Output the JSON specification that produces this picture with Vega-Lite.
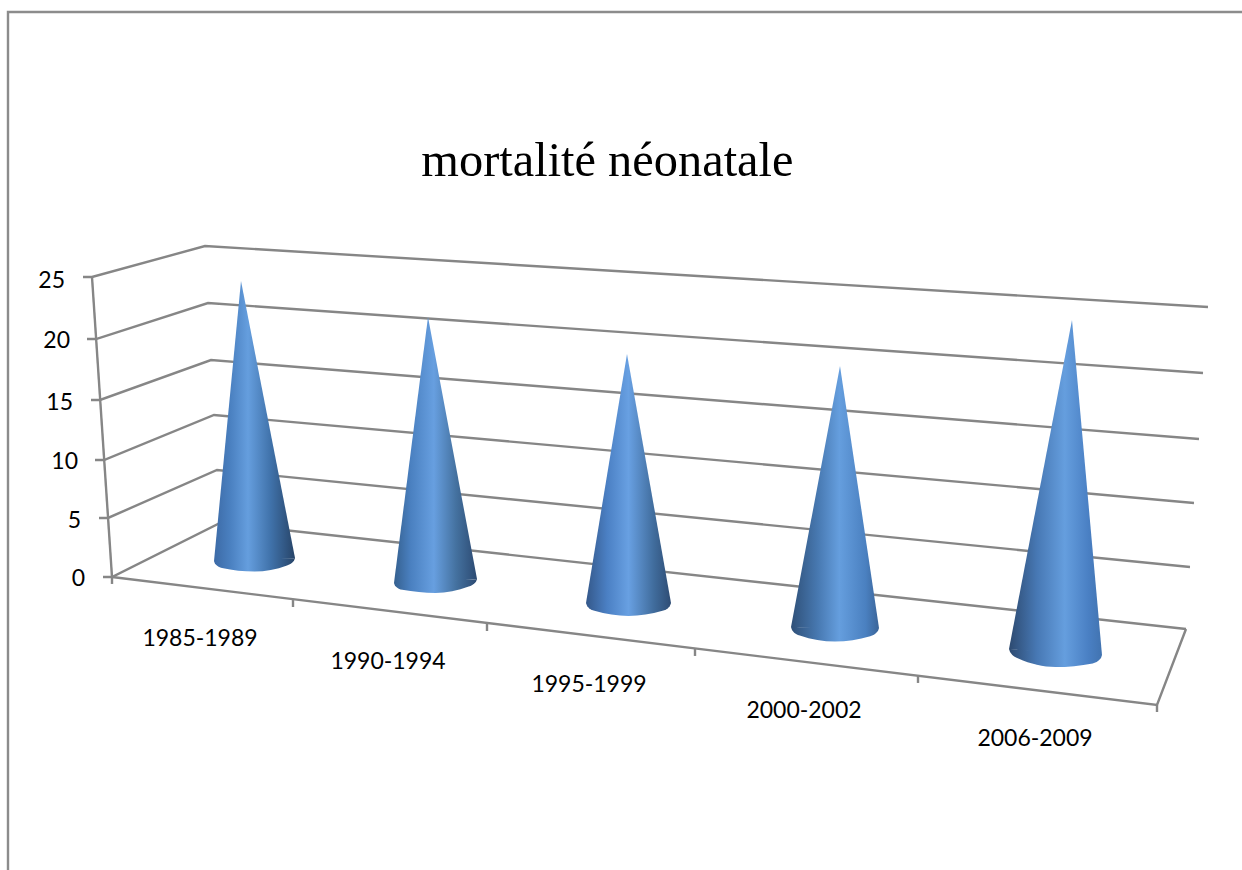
{"$schema":"https://vega.github.io/schema/vega-lite/v6.json","width":1242,"height":870,"autosize":"none","padding":0,"background":"white","config":{"view":{"stroke":null}},
"datasets":{
"lines":[
{"id":"g25","seq":1,"u":0.415,"v":25},{"id":"g25","seq":2,"u":0.46,"v":25},{"id":"g25","seq":3,"u":1.025,"v":27.58},{"id":"g25","seq":4,"u":6.04,"v":22.5},
{"id":"g20","seq":1,"u":0.435,"v":19.83},{"id":"g20","seq":2,"u":0.48,"v":19.83},{"id":"g20","seq":3,"u":1.04,"v":22.83},{"id":"g20","seq":4,"u":6.015,"v":17},
{"id":"g15","seq":1,"u":0.455,"v":14.75},{"id":"g15","seq":2,"u":0.5,"v":14.75},{"id":"g15","seq":3,"u":1.055,"v":18.08},{"id":"g15","seq":4,"u":5.995,"v":11.5},
{"id":"g10","seq":1,"u":0.475,"v":9.75},{"id":"g10","seq":2,"u":0.52,"v":9.75},{"id":"g10","seq":3,"u":1.07,"v":13.5},{"id":"g10","seq":4,"u":5.97,"v":6.17},
{"id":"g5","seq":1,"u":0.495,"v":4.92},{"id":"g5","seq":2,"u":0.54,"v":4.92},{"id":"g5","seq":3,"u":1.085,"v":8.92},{"id":"g5","seq":4,"u":5.95,"v":0.83},
{"id":"g0","seq":1,"u":0.515,"v":0},{"id":"g0","seq":2,"u":0.56,"v":0},{"id":"g0","seq":3,"u":1.1,"v":4.5},{"id":"g0","seq":4,"u":5.93,"v":-4.33},
{"id":"axis","seq":1,"u":0.46,"v":25},{"id":"axis","seq":2,"u":0.56,"v":0},
{"id":"floor","seq":1,"u":0.56,"v":0},{"id":"floor","seq":2,"u":5.785,"v":-10.67},{"id":"floor","seq":3,"u":5.93,"v":-4.33},
{"id":"t0","seq":1,"u":0.56,"v":0},{"id":"t0","seq":2,"u":0.56,"v":-0.58},
{"id":"t1","seq":1,"u":1.465,"v":-1.92},{"id":"t1","seq":2,"u":1.465,"v":-2.5},
{"id":"t2","seq":1,"u":2.435,"v":-3.83},{"id":"t2","seq":2,"u":2.435,"v":-4.5},
{"id":"t3","seq":1,"u":3.475,"v":-6},{"id":"t3","seq":2,"u":3.475,"v":-6.58},
{"id":"t4","seq":1,"u":4.59,"v":-8.25},{"id":"t4","seq":2,"u":4.59,"v":-8.83},
{"id":"t5","seq":1,"u":5.785,"v":-10.67},{"id":"t5","seq":2,"u":5.785,"v":-11.25}
],
"frame":[{"seq":1,"u":0.04,"v":-24.42},{"seq":2,"u":0.04,"v":47.08},{"seq":3,"u":6.21,"v":47.08}],
"cones":[
{"cone":"1985-1989","part":"tip","u":1.07,"v":1.33,"v2":1.33},{"cone":"1985-1989","part":"tip","u":1.205,"v":24.67,"v2":1.25},{"cone":"1985-1989","part":"tip","u":1.475,"v":1.58,"v2":1.58},
{"cone":"1985-1989","part":"base","u":1.07,"v":1.33,"v2":1.33},{"cone":"1985-1989","part":"base","u":1.076,"v":1.34,"v2":1.08},{"cone":"1985-1989","part":"base","u":1.11,"v":1.36,"v2":0.76},{"cone":"1985-1989","part":"base","u":1.2725,"v":1.46,"v2":0.46},{"cone":"1985-1989","part":"base","u":1.435,"v":1.56,"v2":0.96},{"cone":"1985-1989","part":"base","u":1.469,"v":1.57,"v2":1.33},{"cone":"1985-1989","part":"base","u":1.475,"v":1.58,"v2":1.58},
{"cone":"1990-1994","part":"tip","u":1.97,"v":-0.5,"v2":-0.5},{"cone":"1990-1994","part":"tip","u":2.14,"v":21.67,"v2":-0.53},{"cone":"1990-1994","part":"tip","u":2.385,"v":-0.17,"v2":-0.17},
{"cone":"1990-1994","part":"base","u":1.97,"v":-0.5,"v2":-0.5},{"cone":"1990-1994","part":"base","u":1.976,"v":-0.5,"v2":-0.75},{"cone":"1990-1994","part":"base","u":2.0115,"v":-0.47,"v2":-1.07},{"cone":"1990-1994","part":"base","u":2.1775,"v":-0.33,"v2":-1.33},{"cone":"1990-1994","part":"base","u":2.3435,"v":-0.2,"v2":-0.8},{"cone":"1990-1994","part":"base","u":2.379,"v":-0.18,"v2":-0.42},{"cone":"1990-1994","part":"base","u":2.385,"v":-0.17,"v2":-0.17},
{"cone":"1995-1999","part":"tip","u":2.93,"v":-2.17,"v2":-2.17},{"cone":"1995-1999","part":"tip","u":3.135,"v":18.58,"v2":-2.33},{"cone":"1995-1999","part":"tip","u":3.355,"v":-2.17,"v2":-2.17},
{"cone":"1995-1999","part":"base","u":2.93,"v":-2.17,"v2":-2.17},{"cone":"1995-1999","part":"base","u":2.9365,"v":-2.17,"v2":-2.43},{"cone":"1995-1999","part":"base","u":2.9725,"v":-2.17,"v2":-2.82},{"cone":"1995-1999","part":"base","u":3.1425,"v":-2.17,"v2":-3.25},{"cone":"1995-1999","part":"base","u":3.3125,"v":-2.17,"v2":-2.82},{"cone":"1995-1999","part":"base","u":3.3485,"v":-2.17,"v2":-2.43},{"cone":"1995-1999","part":"base","u":3.355,"v":-2.17,"v2":-2.17},
{"cone":"2000-2002","part":"tip","u":3.955,"v":-4.17,"v2":-4.17},{"cone":"2000-2002","part":"tip","u":4.2,"v":17.58,"v2":-4.38},{"cone":"2000-2002","part":"tip","u":4.395,"v":-4.25,"v2":-4.25},
{"cone":"2000-2002","part":"base","u":3.955,"v":-4.17,"v2":-4.17},{"cone":"2000-2002","part":"base","u":3.9615,"v":-4.17,"v2":-4.45},{"cone":"2000-2002","part":"base","u":3.999,"v":-4.18,"v2":-4.88},{"cone":"2000-2002","part":"base","u":4.175,"v":-4.21,"v2":-5.38},{"cone":"2000-2002","part":"base","u":4.351,"v":-4.24,"v2":-4.94},{"cone":"2000-2002","part":"base","u":4.3885,"v":-4.25,"v2":-4.53},{"cone":"2000-2002","part":"base","u":4.395,"v":-4.25,"v2":-4.25},
{"cone":"2006-2009","part":"tip","u":5.045,"v":-6,"v2":-6},{"cone":"2006-2009","part":"tip","u":5.36,"v":21.42,"v2":-6.5},{"cone":"2006-2009","part":"tip","u":5.51,"v":-6.5,"v2":-6.5},
{"cone":"2006-2009","part":"base","u":5.045,"v":-6,"v2":-6},{"cone":"2006-2009","part":"base","u":5.052,"v":-6.01,"v2":-6.3},{"cone":"2006-2009","part":"base","u":5.0915,"v":-6.05,"v2":-6.8},{"cone":"2006-2009","part":"base","u":5.2775,"v":-6.25,"v2":-7.5},{"cone":"2006-2009","part":"base","u":5.4635,"v":-6.45,"v2":-7.2},{"cone":"2006-2009","part":"base","u":5.503,"v":-6.49,"v2":-6.8},{"cone":"2006-2009","part":"base","u":5.51,"v":-6.5,"v2":-6.5}
],
"ylabels":[{"t":"25","u":0.325,"v":24.65},{"t":"20","u":0.35,"v":19.65},{"t":"15","u":0.365,"v":14.48},{"t":"10","u":0.39,"v":9.57},{"t":"5","u":0.405,"v":4.65},{"t":"0","u":0.425,"v":-0.18}],
"xlabels":[{"t":"1985-1989","u":1.0,"v":-5.18},{"t":"1990-1994","u":1.94,"v":-7.1},{"t":"1995-1999","u":2.945,"v":-9.02},{"t":"2000-2002","u":4.02,"v":-11.18},{"t":"2006-2009","u":5.175,"v":-13.52}],
"title":[{"t":"mortalité néonatale","u":3.037,"v":33.42}]
},
"encoding":{
"x":{"field":"u","type":"quantitative","scale":{"domain":[0,6.21],"nice":false,"zero":false},"axis":null},
"y":{"field":"v","type":"quantitative","scale":{"domain":[-24.4167,48.0833],"nice":false,"zero":false},"axis":null}
},
"layer":[
{"data":{"name":"frame"},"mark":{"type":"line","color":"#8c8c8c","strokeWidth":2.4},"encoding":{"order":{"field":"seq","type":"ordinal"}}},
{"data":{"name":"lines"},"mark":{"type":"line","color":"#868686","strokeWidth":2.4},"encoding":{"detail":{"field":"id"},"order":{"field":"seq","type":"ordinal"}}},
{"data":{"name":"cones"},"transform":[{"filter":"datum.cone=='1985-1989' && datum.part=='tip'"}],"mark":{"type":"area","interpolate":"linear","color":{"gradient":"linear","x1":0,"y1":0,"x2":1,"y2":0,"stops":[{"offset":0,"color":"#3c6aa6"},{"offset":0.2,"color":"#4a80c0"},{"offset":0.42,"color":"#659ede"},{"offset":0.7,"color":"#4072aa"},{"offset":1,"color":"#274468"}]}},"encoding":{"y2":{"field":"v2"}}},
{"data":{"name":"cones"},"transform":[{"filter":"datum.cone=='1985-1989' && datum.part=='base'"}],"mark":{"type":"area","interpolate":"monotone","color":{"gradient":"linear","x1":0,"y1":0,"x2":1,"y2":0,"stops":[{"offset":0,"color":"#3c6aa6"},{"offset":0.2,"color":"#4a80c0"},{"offset":0.42,"color":"#659ede"},{"offset":0.7,"color":"#4072aa"},{"offset":1,"color":"#274468"}]}},"encoding":{"y2":{"field":"v2"}}},
{"data":{"name":"cones"},"transform":[{"filter":"datum.cone=='1990-1994' && datum.part=='tip'"}],"mark":{"type":"area","interpolate":"linear","color":{"gradient":"linear","x1":0,"y1":0,"x2":1,"y2":0,"stops":[{"offset":0,"color":"#35608f"},{"offset":0.2,"color":"#4a80c0"},{"offset":0.48,"color":"#679fe0"},{"offset":0.75,"color":"#44719f"},{"offset":1,"color":"#2c4a72"}]}},"encoding":{"y2":{"field":"v2"}}},
{"data":{"name":"cones"},"transform":[{"filter":"datum.cone=='1990-1994' && datum.part=='base'"}],"mark":{"type":"area","interpolate":"monotone","color":{"gradient":"linear","x1":0,"y1":0,"x2":1,"y2":0,"stops":[{"offset":0,"color":"#35608f"},{"offset":0.2,"color":"#4a80c0"},{"offset":0.48,"color":"#679fe0"},{"offset":0.75,"color":"#44719f"},{"offset":1,"color":"#2c4a72"}]}},"encoding":{"y2":{"field":"v2"}}},
{"data":{"name":"cones"},"transform":[{"filter":"datum.cone=='1995-1999' && datum.part=='tip'"}],"mark":{"type":"area","interpolate":"linear","color":{"gradient":"linear","x1":0,"y1":0,"x2":1,"y2":0,"stops":[{"offset":0,"color":"#34588a"},{"offset":0.25,"color":"#4b80c4"},{"offset":0.5,"color":"#68a0e2"},{"offset":0.8,"color":"#406c9c"},{"offset":1,"color":"#2e4c74"}]}},"encoding":{"y2":{"field":"v2"}}},
{"data":{"name":"cones"},"transform":[{"filter":"datum.cone=='1995-1999' && datum.part=='base'"}],"mark":{"type":"area","interpolate":"monotone","color":{"gradient":"linear","x1":0,"y1":0,"x2":1,"y2":0,"stops":[{"offset":0,"color":"#34588a"},{"offset":0.25,"color":"#4b80c4"},{"offset":0.5,"color":"#68a0e2"},{"offset":0.8,"color":"#406c9c"},{"offset":1,"color":"#2e4c74"}]}},"encoding":{"y2":{"field":"v2"}}},
{"data":{"name":"cones"},"transform":[{"filter":"datum.cone=='2000-2002' && datum.part=='tip'"}],"mark":{"type":"area","interpolate":"linear","color":{"gradient":"linear","x1":0,"y1":0,"x2":1,"y2":0,"stops":[{"offset":0,"color":"#2f5078"},{"offset":0.3,"color":"#4778b0"},{"offset":0.55,"color":"#659ede"},{"offset":0.85,"color":"#4a80c0"},{"offset":1,"color":"#3a6498"}]}},"encoding":{"y2":{"field":"v2"}}},
{"data":{"name":"cones"},"transform":[{"filter":"datum.cone=='2000-2002' && datum.part=='base'"}],"mark":{"type":"area","interpolate":"monotone","color":{"gradient":"linear","x1":0,"y1":0,"x2":1,"y2":0,"stops":[{"offset":0,"color":"#2f5078"},{"offset":0.3,"color":"#4778b0"},{"offset":0.55,"color":"#659ede"},{"offset":0.85,"color":"#4a80c0"},{"offset":1,"color":"#3a6498"}]}},"encoding":{"y2":{"field":"v2"}}},
{"data":{"name":"cones"},"transform":[{"filter":"datum.cone=='2006-2009' && datum.part=='tip'"}],"mark":{"type":"area","interpolate":"linear","color":{"gradient":"linear","x1":0,"y1":0,"x2":1,"y2":0,"stops":[{"offset":0,"color":"#2d4a70"},{"offset":0.3,"color":"#4778b4"},{"offset":0.6,"color":"#659ede"},{"offset":0.85,"color":"#4a80c4"},{"offset":1,"color":"#4173b0"}]}},"encoding":{"y2":{"field":"v2"}}},
{"data":{"name":"cones"},"transform":[{"filter":"datum.cone=='2006-2009' && datum.part=='base'"}],"mark":{"type":"area","interpolate":"monotone","color":{"gradient":"linear","x1":0,"y1":0,"x2":1,"y2":0,"stops":[{"offset":0,"color":"#2d4a70"},{"offset":0.3,"color":"#4778b4"},{"offset":0.6,"color":"#659ede"},{"offset":0.85,"color":"#4a80c4"},{"offset":1,"color":"#4173b0"}]}},"encoding":{"y2":{"field":"v2"}}},
{"data":{"name":"ylabels"},"mark":{"type":"text","font":"Lato","fontSize":23,"align":"right","baseline":"middle","color":"#000000"},"encoding":{"text":{"field":"t"}}},
{"data":{"name":"xlabels"},"mark":{"type":"text","font":"Lato","fontSize":23,"align":"center","baseline":"middle","color":"#000000"},"encoding":{"text":{"field":"t"}}},
{"data":{"name":"title"},"mark":{"type":"text","font":"Liberation Serif","fontSize":48.4,"align":"center","baseline":"alphabetic","color":"#000000"},"encoding":{"text":{"field":"t"}}}
]}
